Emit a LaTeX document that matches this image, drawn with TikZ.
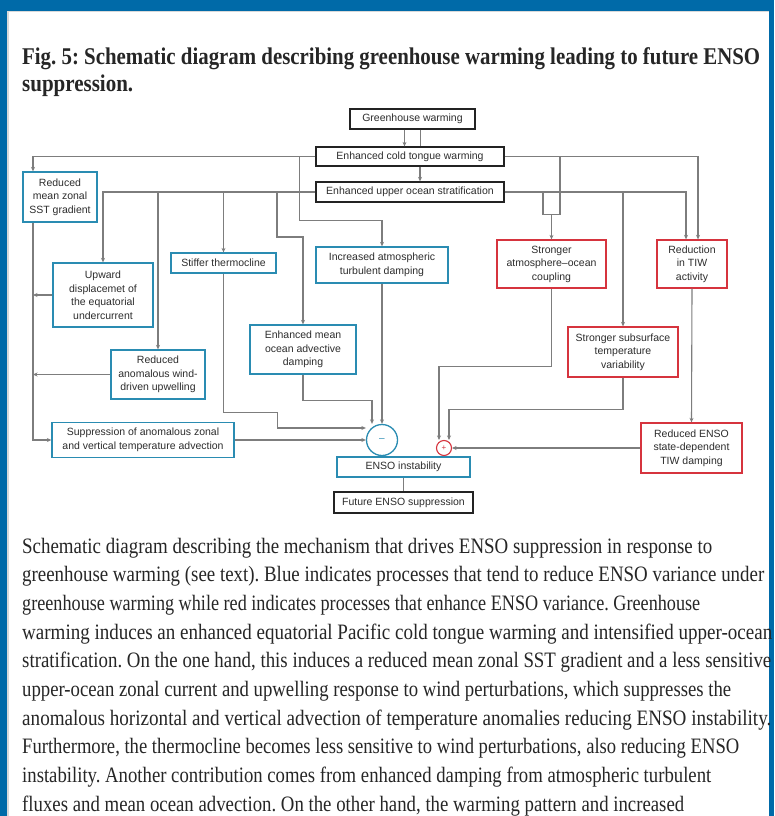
\documentclass[tikz,border=0pt]{standalone}
\usepackage{fontspec}
\usepackage{graphicx}
\setmainfont{Liberation Serif}
\newfontfamily\diagfont{Liberation Sans}
\usetikzlibrary{arrows.meta,calc}
\frenchspacing

\definecolor{pageblue}{RGB}{0,106,168}
\definecolor{boxblue}{RGB}{42,140,178}
\definecolor{boxred}{RGB}{214,52,62}
\definecolor{linegray}{RGB}{125,125,125}
\definecolor{boxblack}{RGB}{35,35,35}
\definecolor{txtgray}{RGB}{45,45,45}

\newcommand{\fitline}[2]{\resizebox{#1pt}{\height}{#2}}

\tikzset{
  procbox/.style={draw, line width=1.3pt, fill=white, align=center, inner sep=2pt,
    text=txtgray, font=\diagfont\fontsize{10.5}{13.5}\selectfont},
  blackbox/.style={procbox, draw=boxblack},
  bluebox/.style={procbox, draw=boxblue},
  redbox/.style={procbox, draw=boxred},
  conn/.style={draw=linegray, line width=1.1pt},
  connarr/.style={conn, -{Stealth[length=4.5pt,width=4pt]}},
  capline/.style={anchor=base west, inner sep=0pt, text=black!85},
}

\begin{document}
\begin{tikzpicture}[x=1pt,y=-1pt]
  \useasboundingbox (0,0) rectangle (774,816);
  \fill[pageblue] (0,0) rectangle (774,816);
  \fill[white] (7,11) rectangle (769,816);
  \draw[black!15, line width=1.5pt] (7.75,816) -- (7.75,11.75) -- (769,11.75);

  % title
  \node[capline, font=\bfseries\fontsize{24}{24}\selectfont] (title1) at (22,64)
    {\fitline{738}{Fig. 5: Schematic diagram describing greenhouse warming leading to future ENSO}};
  \node[capline, font=\bfseries\fontsize{24}{24}\selectfont] (title2) at (22,91)
    {\fitline{111}{suppression.}};

  % top chain
  \node[blackbox, minimum width=125, minimum height=20] (gw) at (412.5,119) {Greenhouse warming};
  \node[blackbox, minimum width=188, minimum height=19] (ectw) at (410,156.5) {Enhanced cold tongue warming};
  \node[blackbox, minimum width=188, minimum height=20] (euos) at (410,192) {Enhanced upper ocean stratification};

  % blue processes
  \node[bluebox, minimum width=74, minimum height=50] (rmz) at (60,197) {Reduced\\mean zonal\\SST gradient};
  \node[bluebox, minimum width=100, minimum height=64] (upw) at (103,295) {Upward\\displacemet of\\the equatorial\\undercurrent};
  \node[bluebox, minimum width=94, minimum height=49] (rawu) at (158,374.5) {Reduced\\anomalous wind-\\driven upwelling};
  \node[bluebox, minimum width=182, minimum height=35] (supp) at (143,440) {Suppression of anomalous zonal\\and vertical temperature advection};
  \node[bluebox, minimum width=105, minimum height=20] (stiff) at (223.5,263) {Stiffer thermocline};
  \node[bluebox, minimum width=132, minimum height=36] (iatd) at (382,265) {Increased atmospheric\\turbulent damping};
  \node[bluebox, minimum width=106, minimum height=49] (emoad) at (303,349.5) {Enhanced mean\\ocean advective\\damping};
  \node[bluebox, minimum width=133, minimum height=20] (ensoi) at (403.5,467) {ENSO instability};

  % red processes
  \node[redbox, minimum width=109, minimum height=48] (saoc) at (551.5,264) {Stronger\\atmosphere–ocean\\coupling};
  \node[redbox, minimum width=70, minimum height=48] (rtiw) at (692,264) {Reduction\\in TIW\\activity};
  \node[redbox, minimum width=110, minimum height=50] (sstv) at (623,352) {Stronger subsurface\\temperature\\variability};
  \node[redbox, minimum width=101, minimum height=50] (resd) at (691.5,448) {Reduced ENSO\\state-dependent\\TIW damping};

  \node[blackbox, minimum width=139, minimum height=21] (fes) at (403.5,502.5) {Future ENSO suppression};

  % junctions
  \node[circle, draw=boxblue, line width=1.3pt, fill=white, minimum size=31, inner sep=0pt,
    text=boxblue, font=\diagfont\fontsize{10}{10}\selectfont] (minus) at (382,440) {–};
  \node[circle, draw=boxred, line width=1.1pt, fill=white, minimum size=15, inner sep=0pt,
    text=boxred, font=\diagfont\fontsize{8}{8}\selectfont] (plus) at (444,448) {+};

  % top chain connectors
  \draw[connarr] ([xshift=-8]gw.south) -- ([xshift=-8]gw.south |- ectw.north);
  \draw[conn] ([xshift=8]gw.south) -- ([xshift=8]gw.south |- ectw.north);
  \draw[connarr] ([xshift=10]ectw.south) -- ([xshift=10]ectw.south |- euos.north);

  % cold tongue warming outputs
  \coordinate (lx) at ([xshift=-27]rmz.south);
  \draw[connarr] (ectw.west) -| (lx |- rmz.north);
  \draw[connarr] ([xshift=-16]ectw.west) -- ++(0,64) -| (iatd.north);
  \draw[connarr] (ectw.east) -| ([xshift=6]rtiw.north);

  % stratification outputs
  \draw[connarr] (euos.east) -| ([xshift=-6]rtiw.north);
  \draw[connarr] (sstv.north |- euos.east) -- (sstv.north);
  \coordinate (brk) at ([yshift=25]saoc.north);
  \draw[conn] ($(saoc.north |- ectw.east)+(8.5,0)$) |- ($(brk)+(-8.5,0)$) -- ($(saoc.north |- euos.east)+(-8.5,0)$);
  \draw[connarr] (brk) -- (saoc.north);
  \draw[connarr] (euos.west) -| (upw.north);
  \draw[connarr] (rawu.north |- euos.west) -- (rawu.north);
  \draw[connarr] (stiff.north |- euos.west) -- (stiff.north);
  \draw[connarr] ($(emoad.north |- euos.west)+(-26,0)$) -- ++(0,45) -| (emoad.north);

  % left collector
  \draw[connarr] (lx) |- (supp.west);
  \draw[connarr] (upw.west) -- (upw.west -| lx);
  \draw[connarr] (rawu.west) -- (rawu.west -| lx);

  % into the minus junction
  \draw[connarr] (supp.east) -- (minus.west);
  \draw[connarr] (iatd.south) -- (minus.north);
  \draw[connarr] (stiff.south) -- ++(0,139) -- ++(54,0) |- ($(minus.west)+(0,-12)$);
  \draw[connarr] (emoad.south) -- ++(0,26) -| ($(minus.north)+(-10,0)$);

  % into the plus junction
  \draw[connarr] (saoc.south) -- ++(0,78) -| ($(plus.north)+(-5,0)$);
  \draw[connarr] (sstv.south) -- ++(0,32) -| ($(plus.north)+(5,0)$);
  \draw[connarr] (rtiw.south) -- (resd.north);
  \draw[connarr] (resd.west) -- (plus.east);
  \draw[conn] (ensoi.south) -- (fes.north);

  % caption
  \node[capline, font=\fontsize{22}{22}\selectfont] (cap1) at (22,553)
    {\fitline{690}{Schematic diagram describing the mechanism that drives ENSO suppression in response to}};
  \node[capline, font=\fontsize{22}{22}\selectfont] (cap2) at (22,581.7)
    {\fitline{742}{greenhouse warming (see text). Blue indicates processes that tend to reduce ENSO variance under}};
  \node[capline, font=\fontsize{22}{22}\selectfont] (cap3) at (22,610.4)
    {\fitline{678}{greenhouse warming while red indicates processes that enhance ENSO variance. Greenhouse}};
  \node[capline, font=\fontsize{22}{22}\selectfont] (cap4) at (22,639.1)
    {\fitline{750}{warming induces an enhanced equatorial Pacific cold tongue warming and intensified upper-ocean}};
  \node[capline, font=\fontsize{22}{22}\selectfont] (cap5) at (22,667.8)
    {\fitline{749}{stratification. On the one hand, this induces a reduced mean zonal SST gradient and a less sensitive}};
  \node[capline, font=\fontsize{22}{22}\selectfont] (cap6) at (22,696.5)
    {\fitline{709}{upper-ocean zonal current and upwelling response to wind perturbations, which suppresses the}};
  \node[capline, font=\fontsize{22}{22}\selectfont] (cap7) at (22,725.2)
    {\fitline{749}{anomalous horizontal and vertical advection of temperature anomalies reducing ENSO instability.}};
  \node[capline, font=\fontsize{22}{22}\selectfont] (cap8) at (22,753.9)
    {\fitline{717}{Furthermore, the thermocline becomes less sensitive to wind perturbations, also reducing ENSO}};
  \node[capline, font=\fontsize{22}{22}\selectfont] (cap9) at (22,782.6)
    {\fitline{689}{instability. Another contribution comes from enhanced damping from atmospheric turbulent}};
  \node[capline, font=\fontsize{22}{22}\selectfont] (cap10) at (22,811.3)
    {\fitline{662}{fluxes and mean ocean advection. On the other hand, the warming pattern and increased}};
\end{tikzpicture}
\end{document}
